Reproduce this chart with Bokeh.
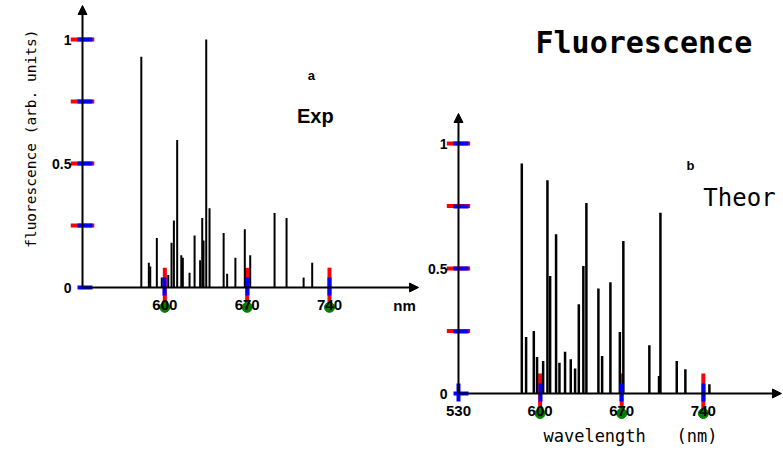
import math
from bokeh.plotting import figure
from bokeh.models import Range1d, Arrow, NormalHead, Label, FixedTicker, LinearAxis
from bokeh.embed import file_html
from bokeh.resources import INLINE

# ---- data ----
exp_nm = [580, 586.4, 587.6, 593.2, 597.4, 602.9, 605.7, 607.7, 610.5, 614, 615.3,
          621, 625.3, 630, 631.8, 632.9, 635.2, 638, 650, 653, 660, 668, 672.6,
          693.3, 703.5, 718, 725.3]
exp_val = [0.93, 0.10, 0.085, 0.20, 0.04, 0.05, 0.18, 0.27, 0.595, 0.13, 0.12,
           0.06, 0.21, 0.11, 0.28, 0.19, 1.0, 0.32, 0.22, 0.055, 0.12, 0.235, 0.13,
           0.30, 0.28, 0.04, 0.10]

theo_nm = [584.3, 588, 594.6, 597.4, 602.6, 606.3, 608.6, 613.7, 616.6, 621.4, 626.3,
           630, 633.2, 637.1, 639.7, 650, 653.2, 660.3, 668.4, 671.4, 693.7, 702,
           703.2, 717.2, 724.6, 745.2]
theo_val = [0.92, 0.226, 0.25, 0.146, 0.13, 0.853, 0.47, 0.637, 0.123, 0.167, 0.137,
            0.10, 0.357, 0.51, 0.762, 0.42, 0.15, 0.445, 0.246, 0.61, 0.193, 0.07,
            0.723, 0.13, 0.097, 0.037]

exp_xticks = [600, 670, 740]
theo_xticks = [530, 600, 670, 740]
theo_xtick_marks = [600, 670, 740]
yticks = [0, 0.25, 0.5, 0.75, 1]
ytick_marks = [0.25, 0.5, 0.75, 1]
ytick_labels = {0: "0", 0.25: "", 0.5: "0.5", 0.75: "", 1: "1"}

X0 = 530

A_X = (460.27, 1125.2)
A_Y = (-0.6895, 1.1573)
B_X = (137.2, 807.9)
B_Y = (-0.26, 1.572)
A_ARROW = (815.7, 1.137)
B_ARROW = (807.0, 1.12)
A_TICK = (10, 0.08)
B_TICK = (10, 0.08)

MONO = "DejaVu Sans Mono"
SANS = "Liberation Sans"

p = figure(width=782, height=458, output_backend="svg", toolbar_location=None,
           x_range=Range1d(*A_X), y_range=Range1d(*A_Y),
           x_axis_type=None, y_axis_type=None,
           min_border_left=0, min_border_right=0, min_border_top=0, min_border_bottom=0)
p.extra_x_ranges = {"bx": Range1d(*B_X)}
p.extra_y_ranges = {"by": Range1d(*B_Y)}
p.xgrid.visible = False
p.ygrid.visible = False
p.outline_line_color = None


def make_axes(xticks, xmarks, tick, xn, yn):
    kw = {}
    if xn:
        kw = dict(x_range_name=xn, y_range_name=yn)
    xa = LinearAxis(ticker=FixedTicker(ticks=xticks), fixed_location=0, **kw)
    ya = LinearAxis(ticker=FixedTicker(ticks=yticks), fixed_location=X0,
                    major_label_overrides=ytick_labels, **kw)
    for ax in (xa, ya):
        ax.axis_line_color = None
        ax.minor_tick_line_color = None
        ax.major_tick_line_color = "blue"
        ax.major_tick_line_width = 4
        ax.major_tick_in = 10
        ax.major_label_text_color = "black"
        ax.major_label_text_font = SANS
        ax.major_label_text_font_style = "bold"
    xa.major_tick_out = 8
    xa.major_label_standoff = 4
    xa.major_label_text_font_size = "15px"
    ya.major_tick_out = 5
    ya.major_label_standoff = 6
    ya.major_label_text_font_size = "14px"
    p.add_layout(xa, "below")
    p.add_layout(ya, "left")
    n = len(xmarks)
    p.segment(x0=list(xmarks), y0=[tick[1]] * n, x1=list(xmarks), y1=[-tick[1]] * n,
              line_width=4, line_color="red", **kw)
    m = len(ytick_marks)
    p.segment(x0=[X0 - tick[0]] * m, y0=list(ytick_marks), x1=[X0 + tick[0]] * m,
              y1=list(ytick_marks), line_width=4, line_color="red", **kw)
    p.scatter(x=list(xmarks), y=[-tick[1]] * n, size=10, color="green", **kw)


def axes_arrows(xend, yend, xn=None, yn=None):
    kw = {}
    if xn:
        kw = dict(x_range_name=xn, y_range_name=yn)
    p.add_layout(Arrow(end=NormalHead(size=9, fill_color="black", line_color="black"),
                       x_start=X0, y_start=0, x_end=X0, y_end=yend,
                       line_width=2, line_color="black", **kw))
    p.add_layout(Arrow(end=NormalHead(size=9, fill_color="black", line_color="black"),
                       x_start=X0, y_start=0, x_end=xend, y_end=0,
                       line_width=2, line_color="black", **kw))


make_axes(exp_xticks, exp_xticks, A_TICK, None, None)
p.segment(x0=exp_nm, y0=0, x1=exp_nm, y1=exp_val, line_width=2, line_color="black")
axes_arrows(*A_ARROW)
txt = dict(text_align="center", text_baseline="middle", text_color="black")
p.add_layout(Label(x=485.8, y=0.60, text="fluorescence (arb. units)", angle=math.pi / 2,
                   text_font=MONO, text_font_size="14.5px", **txt))
p.add_layout(Label(x=803.8, y=-0.073, text="nm", text_font=SANS, text_font_style="bold",
                   text_font_size="15px", **txt))
p.add_layout(Label(x=724.7, y=0.855, text="a", text_font=SANS, text_font_style="bold",
                   text_font_size="13px", **txt))
p.add_layout(Label(x=728, y=0.69, text="Exp", text_font=SANS, text_font_style="bold",
                   text_font_size="20px", **txt))

make_axes(theo_xticks, theo_xtick_marks, B_TICK, "bx", "by")
p.segment(x0=theo_nm, y0=0, x1=theo_nm, y1=theo_val, line_width=2.5, line_color="black",
          x_range_name="bx", y_range_name="by")
axes_arrows(*B_ARROW, "bx", "by")
lab = dict(x_range_name="bx", y_range_name="by", **txt)
p.add_layout(Label(x=677.5, y=-0.168, text="wavelength\u00a0\u00a0\u00a0(nm)",
                   text_font=MONO, text_font_size="17px", **lab))
p.add_layout(Label(x=729, y=0.912, text="b", text_font=SANS, text_font_style="bold",
                   text_font_size="13px", **lab))
p.add_layout(Label(x=771, y=0.784, text="Theor", text_font=MONO, text_font_size="24px", **lab))
p.add_layout(Label(x=689, y=1.404, text="Fluorescence", text_font=MONO,
                   text_font_style="bold", text_font_size="30px", **lab))

open("out.html", "w").write(file_html(p, INLINE))
